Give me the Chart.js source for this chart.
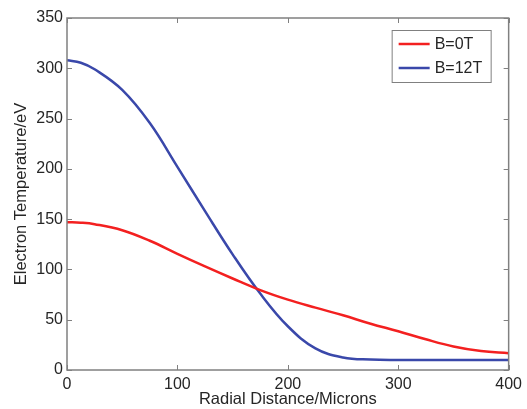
<!DOCTYPE html>
<html>
<head>
<meta charset="utf-8">
<script src="https://cdn.jsdelivr.net/npm/chart.js@4.4.1/dist/chart.umd.min.js"></script>
<style>
  html, body { margin: 0; padding: 0; background: #fff; }
  #wrap { width: 527px; height: 409px; }
</style>
</head>
<body>
<div id="wrap"><canvas id="myChart" width="527" height="409"></canvas></div>
<script>
const radius = [0, 12.5, 25, 50, 75, 100, 125, 150, 175, 200, 225, 250, 275, 300, 325, 350, 375, 400];
const tempB0 = [147, 146.5, 145, 139, 128.5, 115.5, 103, 91, 79.5, 70, 62, 54.4, 46, 38.5, 30.5, 23.4, 18.8, 16.6];
const tempB12 = [308, 305.5, 299, 278.5, 245.5, 202, 158, 115, 76, 43.5, 21.5, 12.5, 10.4, 10, 10, 10, 10, 10];
const xTicks = [0, 100, 200, 300, 400];
const yTicks = [0, 50, 100, 150, 200, 250, 300, 350];

const FONT = 'Liberation Sans, Arial, Helvetica, sans-serif';
const AXIS_GREY = '#808080';
const TEXT = '#262626';

const toPoints = (ys) => radius.map((x, i) => ({x: x, y: ys[i]}));

// box around the axes, with inward ticks on all four sides
const frameTicks = {
  id: 'frameTicks',
  afterDatasetsDraw(chart) {
    const {ctx, chartArea: a, scales} = chart;
    ctx.save();
    ctx.strokeStyle = AXIS_GREY;
    ctx.lineWidth = 1.5;
    ctx.strokeRect(a.left, a.top, a.right - a.left, a.bottom - a.top);
    ctx.lineWidth = 1;
    ctx.beginPath();
    xTicks.forEach(v => {
      const px = Math.round(scales.x.getPixelForValue(v)) + 0.5;
      ctx.moveTo(px, a.bottom); ctx.lineTo(px, a.bottom - 5);
      ctx.moveTo(px, a.top); ctx.lineTo(px, a.top + 5);
    });
    yTicks.forEach(v => {
      const py = Math.round(scales.y.getPixelForValue(v)) + 0.5;
      ctx.moveTo(a.left, py); ctx.lineTo(a.left + 5, py);
      ctx.moveTo(a.right, py); ctx.lineTo(a.right - 5, py);
    });
    ctx.stroke();
    ctx.restore();
  }
};

// boxed legend in the top right corner of the plot
const boxLegend = {
  id: 'boxLegend',
  afterDraw(chart) {
    const {ctx, chartArea: a} = chart;
    const x0 = a.right - 117, y0 = a.top + 12, w = 99, h = 52;
    ctx.save();
    ctx.fillStyle = '#fff';
    ctx.fillRect(x0, y0, w, h);
    ctx.strokeStyle = AXIS_GREY;
    ctx.lineWidth = 1;
    ctx.strokeRect(x0 + 0.5, y0 + 0.5, w, h);
    ctx.font = '16px ' + FONT;
    ctx.textBaseline = 'middle';
    chart.data.datasets.forEach((ds, i) => {
      const y = y0 + 14 + i * 24;
      ctx.strokeStyle = ds.borderColor;
      ctx.lineWidth = 2.5;
      ctx.beginPath();
      ctx.moveTo(x0 + 7, y); ctx.lineTo(x0 + 38, y);
      ctx.stroke();
      ctx.fillStyle = TEXT;
      ctx.fillText(ds.label, x0 + 43, y + 1);
    });
    ctx.restore();
  }
};

const data = {
  datasets: [{
    label: 'B=0T',
    borderColor: 'rgb(243, 32, 32)',
    data: toPoints(tempB0),
  }, {
    label: 'B=12T',
    borderColor: 'rgb(58, 72, 170)',
    data: toPoints(tempB12),
  }]
};

const config = {
  type: 'line',
  data,
  options: {
    responsive: false,
    animation: false,
    layout: { padding: { top: 18, right: 15, left: 0, bottom: 0 } },
    elements: {
      point: { radius: 0 },
      line: { borderWidth: 2.5, tension: 0.4, fill: false }
    },
    plugins: { legend: { display: false }, tooltip: { enabled: false } },
    scales: {
      x: {
        type: 'linear',
        min: 0, max: 400,
        afterBuildTicks: (s) => { s.ticks = xTicks.map(v => ({value: v})); },
        afterFit: (s) => { s.height = 39; },
        grid: { display: false, drawTicks: false },
        border: { display: false },
        ticks: { color: TEXT, font: { family: FONT, size: 16 }, padding: 5, maxRotation: 0 },
        title: { display: true, text: 'Radial Distance/Microns', color: TEXT,
                 font: { family: FONT, size: 16.5 }, padding: { top: 0, bottom: 0 } }
      },
      y: {
        min: 0, max: 350,
        afterBuildTicks: (s) => { s.ticks = yTicks.map(v => ({value: v})); },
        afterFit: (s) => { s.width = 67; },
        grid: { display: false, drawTicks: false },
        border: { display: false },
        ticks: { color: TEXT, font: { family: FONT, size: 16 }, padding: 4 },
        title: { display: true, text: 'Electron Temperature/eV', color: TEXT,
                 font: { family: FONT, size: 16.5 }, padding: { top: 12, bottom: 0 } }
      }
    }
  },
  plugins: [frameTicks, boxLegend]
};

const myChart = new Chart(document.getElementById('myChart'), config);
</script>
</body>
</html>
